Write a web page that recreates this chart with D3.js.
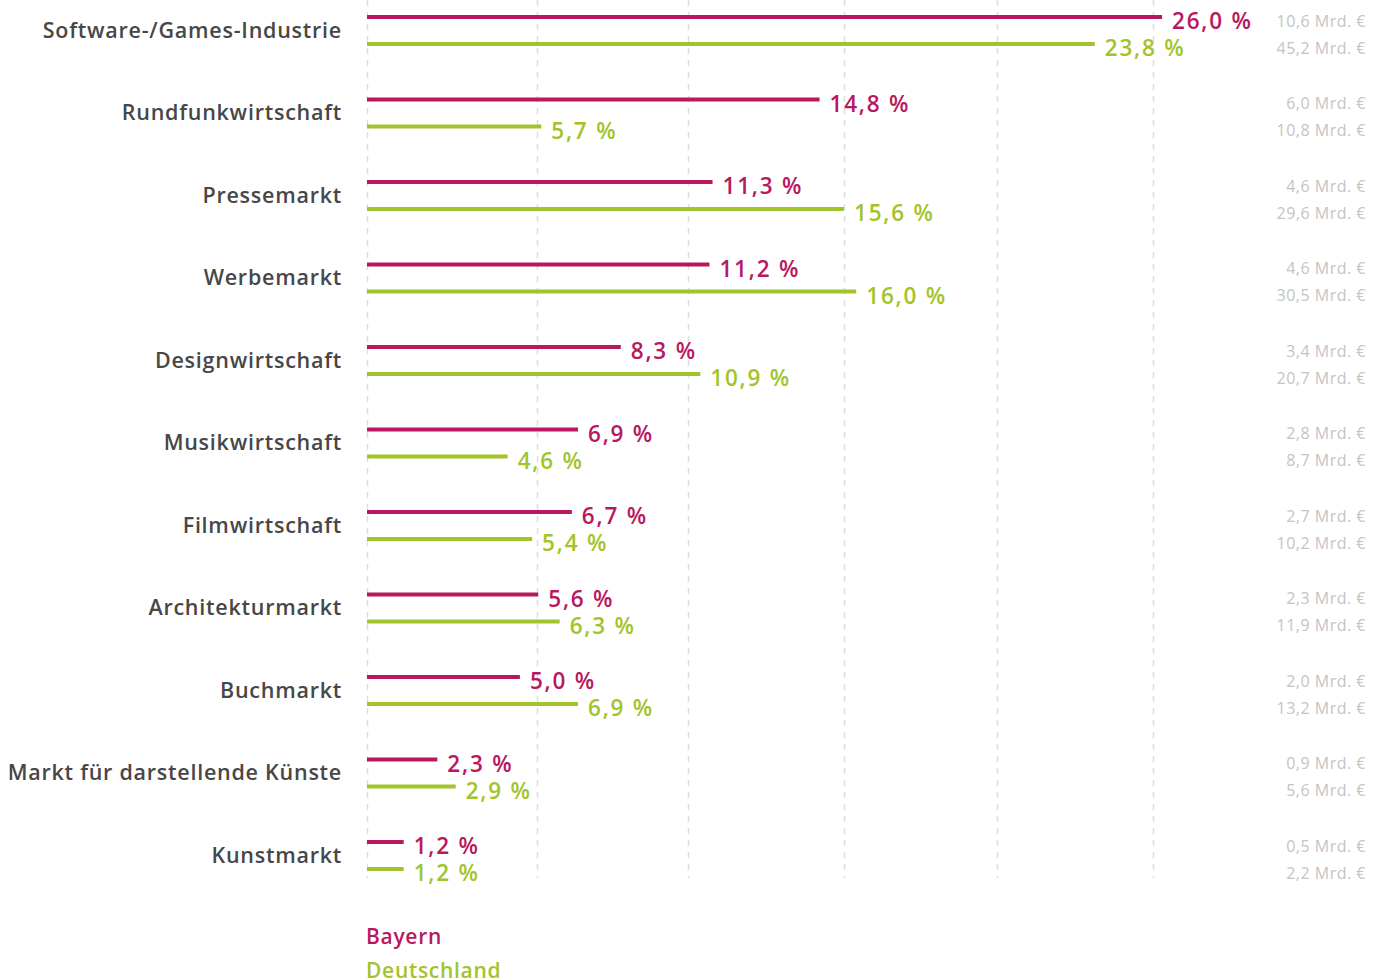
<!DOCTYPE html>
<html>
<head>
<meta charset="utf-8">
<script src="https://cdn.jsdelivr.net/npm/d3@7"></script>
<style>
  body { margin: 0; background: #fff; }
  svg { display: block; }
</style>
</head>
<body>
<svg id="chart" width="1383" height="980"></svg>
<script>
const categories = [
  "Software-/Games-Industrie",
  "Rundfunkwirtschaft",
  "Pressemarkt",
  "Werbemarkt",
  "Designwirtschaft",
  "Musikwirtschaft",
  "Filmwirtschaft",
  "Architekturmarkt",
  "Buchmarkt",
  "Markt für darstellende Künste",
  "Kunstmarkt"
];
const bayernPct = [26.0, 14.8, 11.3, 11.2, 8.3, 6.9, 6.7, 5.6, 5.0, 2.3, 1.2];
const deutschlandPct = [23.8, 5.7, 15.6, 16.0, 10.9, 4.6, 5.4, 6.3, 6.9, 2.9, 1.2];
const bayernMrd = [10.6, 6.0, 4.6, 4.6, 3.4, 2.8, 2.7, 2.3, 2.0, 0.9, 0.5];
const deutschlandMrd = [45.2, 10.8, 29.6, 30.5, 20.7, 8.7, 10.2, 11.9, 13.2, 5.6, 2.2];
const gridValues = [0, 5.56, 10.5, 15.6, 20.6, 25.7];
const seriesNames = ["Bayern", "Deutschland"];

const C_BAY = "#b8185f";
const C_DE = "#a2c42b";

const svg = d3.select("#chart");
const x = d3.scaleLinear().domain([0, 26]).range([367, 1162]);
const y = d3.scaleBand().domain(categories).range([0, 907.5]).padding(0);

const fmt = v => v.toFixed(1).replace(".", ",");

// gridlines
svg.append("g").selectAll("line").data(gridValues).join("line")
  .attr("x1", d => Math.round(x(d)) + 0.5).attr("x2", d => Math.round(x(d)) + 0.5)
  .attr("y1", 0).attr("y2", 878)
  .attr("stroke", "#dedede").attr("stroke-width", 1.5)
  .attr("stroke-dasharray", "6,6");

const rows = svg.append("g").selectAll("g").data(categories).join("g")
  .attr("transform", d => `translate(0,${y(d)})`);

// category labels
rows.append("text")
  .attr("x", 342).attr("y", 29)
  .attr("text-anchor", "end").attr("dominant-baseline", "central")
  .style("font-family", "'Open Sans', sans-serif")
  .style("font-weight", 600).style("font-size", "21.5px")
  .style("letter-spacing", "0.75px")
  .attr("fill", "#474747")
  .text(d => d);

// bars
rows.append("rect")
  .attr("x", x(0)).attr("y", 15)
  .attr("width", (d, i) => x(bayernPct[i]) - x(0)).attr("height", 4)
  .attr("fill", C_BAY);
rows.append("rect")
  .attr("x", x(0)).attr("y", 42)
  .attr("width", (d, i) => x(deutschlandPct[i]) - x(0)).attr("height", 4)
  .attr("fill", C_DE);

// value labels
rows.append("text")
  .attr("x", (d, i) => x(bayernPct[i]) + 10).attr("y", 20.5)
  .attr("dominant-baseline", "central")
  .style("font-family", "'Open Sans', sans-serif")
  .style("font-weight", 600).style("font-size", "22.5px")
  .style("letter-spacing", "1.8px")
  .attr("fill", C_BAY)
  .text((d, i) => fmt(bayernPct[i]) + " %");
rows.append("text")
  .attr("x", (d, i) => x(deutschlandPct[i]) + 10).attr("y", 47.5)
  .attr("dominant-baseline", "central")
  .style("font-family", "'Open Sans', sans-serif")
  .style("font-weight", 600).style("font-size", "22.5px")
  .style("letter-spacing", "1.8px")
  .attr("fill", C_DE)
  .text((d, i) => fmt(deutschlandPct[i]) + " %");

// absolute values
rows.append("text")
  .attr("x", 1366).attr("y", 20.5)
  .attr("text-anchor", "end").attr("dominant-baseline", "central")
  .style("font-family", "'Open Sans', sans-serif")
  .style("font-size", "16px")
  .style("letter-spacing", "0.5px")
  .attr("fill", "#c4c4c4")
  .text((d, i) => fmt(bayernMrd[i]) + " Mrd. €");
rows.append("text")
  .attr("x", 1366).attr("y", 47.5)
  .attr("text-anchor", "end").attr("dominant-baseline", "central")
  .style("font-family", "'Open Sans', sans-serif")
  .style("font-size", "16px")
  .style("letter-spacing", "0.5px")
  .attr("fill", "#c4c4c4")
  .text((d, i) => fmt(deutschlandMrd[i]) + " Mrd. €");

// legend
svg.append("g").selectAll("text").data(seriesNames).join("text")
  .attr("x", 366).attr("y", (d, i) => 936 + i * 34)
  .attr("dominant-baseline", "central")
  .style("font-family", "'Open Sans', sans-serif")
  .style("font-weight", 600).style("font-size", "21px")
  .style("letter-spacing", "0.7px")
  .attr("fill", (d, i) => i === 0 ? C_BAY : C_DE)
  .text(d => d);
</script>
</body>
</html>
